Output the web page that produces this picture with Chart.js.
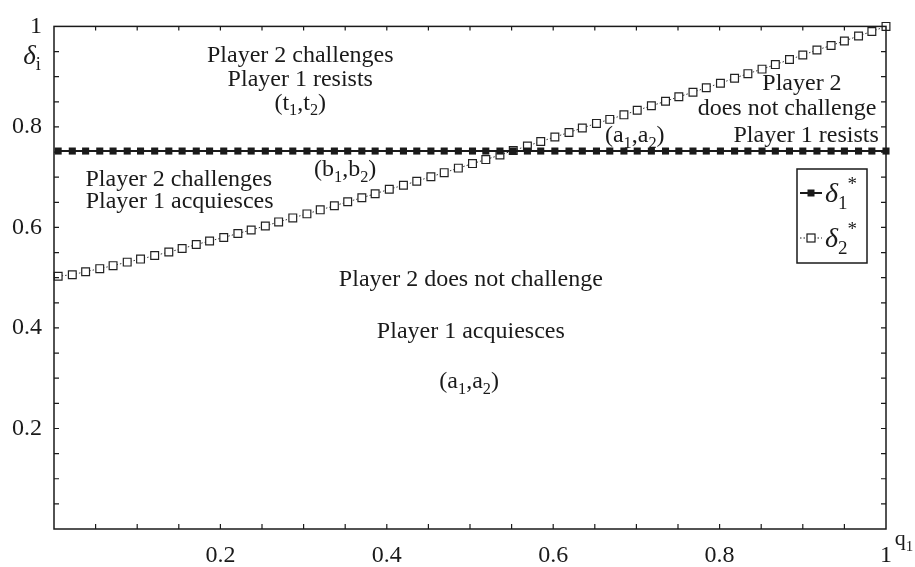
<!DOCTYPE html>
<html lang="en">
<head>
<meta charset="UTF-8">
<title>Challenge / resist regions</title>
<script src="https://cdn.jsdelivr.net/npm/chart.js@4.4.1/dist/chart.umd.min.js"></script>
<style>
  html, body { margin: 0; padding: 0; background: #fff; }
  #wrap { width: 915px; height: 567px; }
</style>
</head>
<body>
<div id="wrap"><canvas id="chart"></canvas></div>
<script>
// q1 sample points
const q1 = [
  0.005, 0.022, 0.038, 0.055, 0.071, 0.088, 0.104, 0.121, 0.138, 0.154,
  0.171, 0.187, 0.204, 0.221, 0.237, 0.254, 0.270, 0.287, 0.304, 0.320,
  0.337, 0.353, 0.370, 0.386, 0.403, 0.420, 0.436, 0.453, 0.469, 0.486,
  0.503, 0.519, 0.536, 0.552, 0.569, 0.585, 0.602, 0.619, 0.635, 0.652,
  0.668, 0.685, 0.701, 0.718, 0.735, 0.751, 0.768, 0.784, 0.801, 0.818,
  0.834, 0.851, 0.867, 0.884, 0.900, 0.917, 0.934, 0.950, 0.967, 0.983,
  1.000
];

// delta1* stays flat
const delta1 = [
  0.752, 0.752, 0.752, 0.752, 0.752, 0.752, 0.752, 0.752, 0.752, 0.752,
  0.752, 0.752, 0.752, 0.752, 0.752, 0.752, 0.752, 0.752, 0.752, 0.752,
  0.752, 0.752, 0.752, 0.752, 0.752, 0.752, 0.752, 0.752, 0.752, 0.752,
  0.752, 0.752, 0.752, 0.752, 0.752, 0.752, 0.752, 0.752, 0.752, 0.752,
  0.752, 0.752, 0.752, 0.752, 0.752, 0.752, 0.752, 0.752, 0.752, 0.752,
  0.752, 0.752, 0.752, 0.752, 0.752, 0.752, 0.752, 0.752, 0.752, 0.752,
  0.752
];

// delta2* rises from 0.5 to 1
const delta2 = [
  0.503, 0.506, 0.512, 0.518, 0.524, 0.531, 0.537, 0.544, 0.551, 0.558,
  0.566, 0.573, 0.580, 0.588, 0.595, 0.603, 0.611, 0.619, 0.627, 0.635,
  0.643, 0.651, 0.659, 0.667, 0.676, 0.684, 0.692, 0.701, 0.709, 0.718,
  0.727, 0.735, 0.744, 0.753, 0.762, 0.771, 0.780, 0.789, 0.798, 0.807,
  0.815, 0.824, 0.833, 0.842, 0.851, 0.860, 0.869, 0.878, 0.887, 0.897,
  0.906, 0.915, 0.924, 0.934, 0.943, 0.953, 0.962, 0.971, 0.981, 0.990,
  1.000
];

const xTickLabels = ['0.2', '0.4', '0.6', '0.8', '1'];
const yTickLabels = ['0.2', '0.4', '0.6', '0.8', '1'];

// region notes: parts are [text, mode], mode '' | 'sub'
const notes = [
  { x: 0.296, y: 0.944, parts: [['Player 2 challenges', '']] },
  { x: 0.296, y: 0.897, parts: [['Player 1 resists', '']] },
  { x: 0.296, y: 0.850, parts: [['(t', ''], ['1', 'sub'], [',t', ''], ['2', 'sub'], [')', '']] },
  { x: 0.899, y: 0.889, parts: [['Player 2', '']] },
  { x: 0.881, y: 0.840, parts: [['does not challenge', '']] },
  { x: 0.904, y: 0.786, parts: [['Player 1 resists', '']] },
  { x: 0.698, y: 0.786, parts: [['(a', ''], ['1', 'sub'], [',a', ''], ['2', 'sub'], [')', '']] },
  { x: 0.350, y: 0.718, parts: [['(b', ''], ['1', 'sub'], [',b', ''], ['2', 'sub'], [')', '']] },
  { x: 0.150, y: 0.698, parts: [['Player 2 challenges', '']] },
  { x: 0.151, y: 0.654, parts: [['Player 1 acquiesces', '']] },
  { x: 0.501, y: 0.500, parts: [['Player 2 does not challenge', '']] },
  { x: 0.501, y: 0.395, parts: [['Player 1 acquiesces', '']] },
  { x: 0.499, y: 0.296, parts: [['(a', ''], ['1', 'sub'], [',a', ''], ['2', 'sub'], [')', '']] }
];

const SERIF = '"Liberation Serif", "DejaVu Serif", serif';
const INK = '#1a1a1a';

function fontFor(mode, size) {
  const s = (mode === 'sub' || mode === 'sup') ? size * 0.68 : size;
  const it = mode === 'it' ? 'italic ' : '';
  return it + s + 'px ' + SERIF;
}

// draws text with subscripts, centred on cx, cy
function rich(ctx, parts, cx, cy, size) {
  let total = 0;
  parts.forEach(([t, m]) => { ctx.font = fontFor(m, size); total += ctx.measureText(t).width; });
  let x = cx - total / 2;
  const base = cy + size * 0.33;
  ctx.textAlign = 'left';
  ctx.textBaseline = 'alphabetic';
  parts.forEach(([t, m]) => {
    ctx.font = fontFor(m, size);
    let y = base;
    if (m === 'sub') y += size * 0.24;
    if (m === 'sup') y -= size * 0.42;
    ctx.fillText(t, x, y);
    x += ctx.measureText(t).width;
  });
}

function fmt(v) {
  return String(Math.round(v * 100) / 100);
}

const decor = {
  id: 'decor',
  afterDraw(chart) {
    const { ctx, chartArea: a, scales: { x, y } } = chart;
    ctx.save();
    ctx.strokeStyle = INK;
    ctx.fillStyle = INK;

    // frame
    ctx.lineWidth = 1.5;
    ctx.strokeRect(a.left, a.top, a.right - a.left, a.bottom - a.top);

    // inward ticks on all four sides
    ctx.lineWidth = 1.2;
    ctx.beginPath();
    x.ticks.forEach(t => {
      if (t.value <= 0 || t.value >= 1) return;
      const px = x.getPixelForValue(t.value);
      ctx.moveTo(px, a.bottom); ctx.lineTo(px, a.bottom - 5);
      ctx.moveTo(px, a.top); ctx.lineTo(px, a.top + 4);
    });
    y.ticks.forEach(t => {
      if (t.value <= 0 || t.value >= 1) return;
      const py = y.getPixelForValue(t.value);
      ctx.moveTo(a.left, py); ctx.lineTo(a.left + 5, py);
      ctx.moveTo(a.right, py); ctx.lineTo(a.right - 5, py);
    });
    ctx.stroke();

    // region notes
    notes.forEach(n => rich(ctx, n.parts, x.getPixelForValue(n.x), y.getPixelForValue(n.y), 24));

    // axis titles
    rich(ctx, [['δ', 'it'], ['i', 'sub']], 32, 55, 27);
    rich(ctx, [['q', ''], ['1', 'sub']], 904, 538, 22);

    // legend box
    const lx = 797, ly = 169, lw = 70, lh = 94;
    ctx.fillStyle = '#fff';
    ctx.fillRect(lx, ly, lw, lh);
    ctx.lineWidth = 1.5;
    ctx.strokeRect(lx, ly, lw, lh);

    // entry 1
    ctx.lineWidth = 2;
    ctx.beginPath(); ctx.moveTo(800, 193); ctx.lineTo(822, 193); ctx.stroke();
    ctx.fillStyle = INK;
    ctx.fillRect(807.5, 189.5, 7, 7);
    rich(ctx, [['δ', 'it'], ['1', 'sub'], ['*', 'sup']], 841, 193, 28);

    // entry 2
    ctx.lineWidth = 1;
    ctx.setLineDash([1.5, 2]);
    ctx.beginPath(); ctx.moveTo(800, 238); ctx.lineTo(822, 238); ctx.stroke();
    ctx.setLineDash([]);
    ctx.fillStyle = '#fff';
    ctx.fillRect(807, 234, 8, 8);
    ctx.lineWidth = 1.2;
    ctx.strokeRect(807, 234, 8, 8);
    ctx.fillStyle = INK;
    rich(ctx, [['δ', 'it'], ['2', 'sub'], ['*', 'sup']], 841, 238, 28);

    ctx.restore();
  }
};

new Chart(document.getElementById('chart'), {
  type: 'line',
  data: {
    datasets: [{
      label: 'δ1*',
      data: q1.map((q, i) => ({ x: q, y: delta1[i] })),
      borderColor: INK,
      borderWidth: 2,
      pointStyle: 'rect',
      pointRadius: 5,
      pointBackgroundColor: INK,
      pointBorderColor: INK,
      pointBorderWidth: 0,
      clip: false
    }, {
      label: 'δ2*',
      data: q1.map((q, i) => ({ x: q, y: delta2[i] })),
      borderColor: '#333',
      borderWidth: 1,
      borderDash: [1.5, 2],
      pointStyle: 'rect',
      pointRadius: 5.5,
      pointBackgroundColor: '#fff',
      pointBorderColor: '#222',
      pointBorderWidth: 1.2,
      clip: false
    }]
  },
  options: {
    responsive: true,
    maintainAspectRatio: false,
    animation: false,
    events: [],
    layout: { padding: { top: 15, right: 29, left: 0, bottom: 0 } },
    plugins: { legend: { display: false }, tooltip: { enabled: false } },
    scales: {
      x: {
        type: 'linear',
        min: 0, max: 1,
        grid: { display: false, drawTicks: false },
        border: { display: false },
        ticks: {
          stepSize: 0.05,
          autoSkip: false,
          maxRotation: 0,
          padding: 12,
          color: INK,
          font: { family: SERIF, size: 24 },
          callback: v => xTickLabels.includes(fmt(v)) ? fmt(v) : ''
        },
        afterFit: s => { s.height = 38; }
      },
      y: {
        type: 'linear',
        min: 0, max: 1,
        grid: { display: false, drawTicks: false },
        border: { display: false },
        ticks: {
          stepSize: 0.05,
          autoSkip: false,
          padding: 12,
          color: INK,
          font: { family: SERIF, size: 24 },
          callback: v => yTickLabels.includes(fmt(v)) ? fmt(v) : ''
        },
        afterFit: s => { s.width = 54; }
      }
    }
  },
  plugins: [decor]
});
</script>
</body>
</html>
